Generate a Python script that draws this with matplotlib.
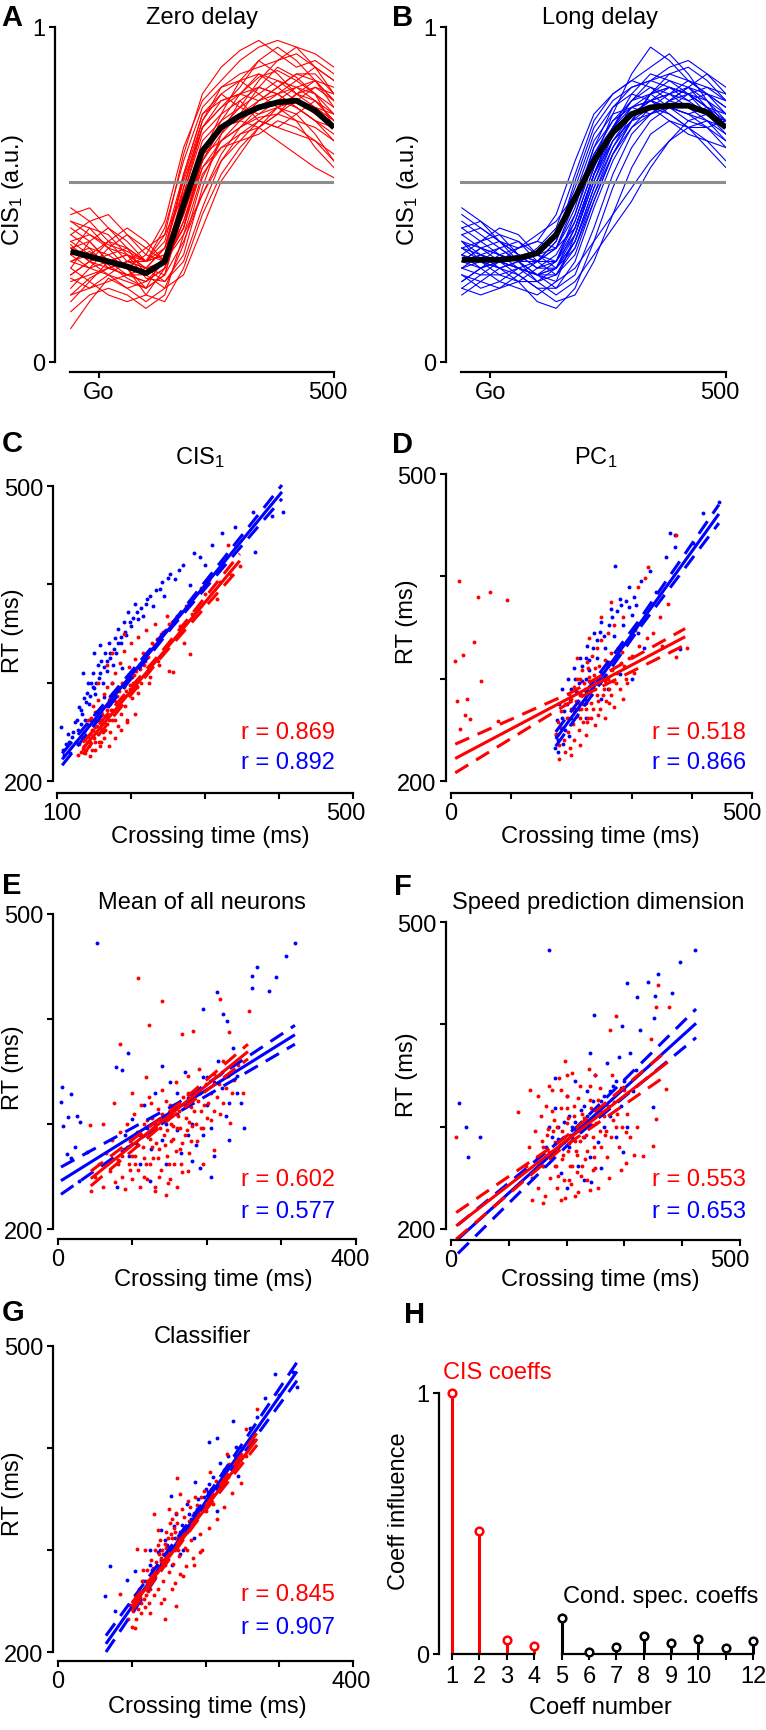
import numpy as np
import matplotlib
matplotlib.use('Agg')
import matplotlib.pyplot as plt
from matplotlib.transforms import ScaledTranslation

plt.rcParams['font.family'] = ['Liberation Sans', 'DejaVu Sans']
plt.rcParams['mathtext.fontset'] = 'custom'
plt.rcParams['mathtext.rm'] = 'Liberation Sans'
plt.rcParams['mathtext.it'] = 'Liberation Sans:italic'
plt.rcParams['font.size'] = 17

W, H = 766, 1731
RED = '#ff0000'
BLUE = '#0000ff'

# ---- panels A/B: CIS1 traces ----
trace_t = [-60, -20, 20, 60, 100, 140, 180, 220, 260, 300, 340, 380, 420, 460, 500]
threshold = 0.537
zero_mean = [.33, .315, .30, .285, .265, .30, .47, .63, .70, .735, .76, .775, .78, .75, .70]
long_mean = [.305, .305, .305, .31, .325, .38, .49, .60, .685, .74, .76, .765, .765, .745, .70]

zero_traces = [
    [.42, .38, .35, .33, .30, .34, .55, .72, .82, .86, .88, .90, .92, .88, .80],
    [.30, .33, .29, .25, .22, .26, .45, .62, .70, .76, .80, .84, .82, .78, .72],
    [.20, .25, .28, .26, .24, .28, .50, .70, .78, .80, .85, .87, .84, .80, .74],
    [.46, .42, .36, .30, .28, .30, .40, .58, .66, .70, .73, .74, .72, .70, .66],
    [.35, .30, .32, .34, .30, .38, .62, .80, .88, .93, .96, .92, .88, .90, .86],
    [.10, .18, .25, .22, .18, .22, .35, .55, .66, .72, .78, .80, .82, .84, .78],
    [.28, .36, .40, .36, .30, .32, .50, .68, .74, .78, .72, .70, .74, .78, .72],
    [.38, .34, .28, .26, .26, .30, .44, .60, .68, .74, .82, .88, .85, .80, .70],
    [.25, .22, .26, .30, .28, .26, .36, .50, .62, .70, .74, .76, .74, .68, .60],
    [.33, .40, .38, .32, .25, .24, .30, .46, .60, .68, .70, .66, .62, .58, .55],
    [.40, .36, .30, .28, .32, .42, .64, .78, .84, .90, .94, .96, .94, .88, .84],
    [.22, .28, .30, .28, .20, .18, .28, .44, .56, .64, .70, .74, .78, .76, .72],
    [.36, .32, .30, .32, .28, .34, .52, .70, .76, .80, .78, .82, .86, .84, .78],
    [.15, .20, .22, .20, .16, .20, .38, .56, .64, .68, .72, .70, .68, .66, .62],
    [.30, .28, .34, .38, .34, .30, .40, .62, .74, .84, .90, .86, .80, .76, .74],
    [.44, .46, .40, .34, .30, .36, .56, .74, .80, .76, .74, .78, .82, .80, .76],
    [.26, .30, .26, .22, .24, .30, .48, .66, .72, .76, .84, .90, .94, .92, .88],
    [.34, .30, .28, .30, .34, .38, .50, .62, .66, .70, .76, .80, .76, .72, .70],
    [.18, .24, .30, .32, .28, .24, .32, .52, .68, .78, .82, .80, .76, .72, .68],
    [.32, .34, .32, .28, .22, .26, .46, .64, .70, .72, .70, .74, .80, .84, .82],
    [.38, .42, .44, .38, .32, .30, .42, .58, .64, .66, .68, .72, .70, .66, .60],
    [.28, .24, .20, .18, .20, .28, .52, .72, .80, .84, .86, .82, .78, .74, .70],
    [.24, .26, .28, .30, .30, .32, .44, .62, .72, .80, .86, .84, .80, .82, .80],
    [.36, .38, .34, .28, .26, .30, .38, .50, .60, .66, .72, .76, .72, .64, .58],
    [.30, .32, .36, .34, .26, .22, .26, .40, .54, .62, .70, .76, .80, .78, .74],
    [.42, .40, .34, .32, .30, .40, .60, .76, .82, .84, .80, .76, .78, .82, .78],
    [.20, .22, .24, .26, .28, .34, .54, .70, .76, .82, .90, .94, .90, .84, .76],
    [.34, .36, .30, .26, .24, .28, .42, .60, .70, .74, .78, .82, .86, .86, .80],
    [.26, .30, .36, .40, .36, .30, .40, .60, .70, .72, .76, .78, .76, .72, .66],
    [.32, .28, .26, .24, .22, .32, .56, .74, .78, .80, .82, .80, .84, .88, .84],
]

long_traces = [
    [.40, .36, .32, .30, .32, .38, .52, .68, .76, .80, .78, .80, .82, .78, .72],
    [.30, .34, .36, .32, .28, .30, .42, .58, .70, .76, .80, .82, .80, .76, .70],
    [.22, .26, .30, .28, .24, .26, .36, .52, .66, .74, .78, .76, .74, .72, .68],
    [.46, .42, .36, .34, .36, .44, .60, .74, .80, .84, .82, .78, .76, .74, .72],
    [.34, .30, .28, .30, .32, .34, .44, .60, .74, .86, .94, .90, .84, .80, .76],
    [.26, .22, .24, .28, .26, .22, .26, .40, .56, .68, .74, .78, .80, .78, .74],
    [.38, .40, .36, .30, .26, .28, .40, .56, .66, .72, .76, .74, .70, .66, .60],
    [.28, .30, .34, .36, .32, .28, .34, .48, .62, .72, .80, .86, .88, .84, .78],
    [.32, .28, .24, .22, .20, .24, .38, .56, .70, .78, .80, .76, .72, .70, .66],
    [.36, .34, .32, .34, .38, .42, .50, .62, .70, .74, .78, .82, .80, .74, .68],
    [.20, .24, .28, .26, .22, .18, .20, .30, .44, .58, .68, .72, .70, .64, .58],
    [.42, .38, .34, .30, .30, .36, .54, .70, .78, .82, .84, .86, .84, .80, .74],
    [.30, .32, .30, .26, .22, .22, .30, .46, .60, .70, .76, .80, .84, .82, .78],
    [.34, .36, .38, .36, .30, .26, .34, .50, .64, .74, .78, .74, .70, .70, .72],
    [.28, .26, .26, .28, .30, .36, .50, .66, .74, .76, .74, .76, .80, .82, .80],
    [.24, .28, .32, .30, .26, .24, .28, .36, .44, .52, .60, .66, .70, .72, .70],
    [.36, .30, .28, .30, .34, .40, .56, .72, .80, .84, .88, .92, .86, .78, .70],
    [.30, .34, .32, .28, .26, .30, .44, .62, .72, .76, .78, .80, .76, .72, .66],
    [.44, .40, .36, .32, .28, .28, .36, .52, .64, .72, .80, .84, .82, .76, .70],
    [.26, .24, .22, .24, .28, .32, .42, .58, .70, .78, .82, .80, .78, .80, .78],
    [.32, .36, .40, .38, .32, .30, .38, .54, .68, .76, .78, .76, .74, .76, .74],
    [.38, .34, .30, .28, .26, .26, .32, .48, .62, .70, .74, .78, .82, .86, .82],
    [.22, .20, .22, .26, .30, .34, .46, .64, .76, .82, .84, .82, .80, .76, .70],
    [.34, .32, .28, .24, .18, .16, .22, .36, .52, .64, .72, .76, .74, .70, .64],
    [.30, .28, .30, .34, .36, .34, .40, .56, .68, .74, .76, .72, .68, .66, .64],
    [.40, .42, .38, .32, .30, .34, .48, .64, .72, .78, .84, .88, .90, .86, .80],
    [.28, .32, .34, .30, .24, .20, .24, .32, .40, .48, .58, .66, .72, .74, .72],
    [.36, .32, .30, .32, .30, .30, .40, .56, .70, .80, .86, .84, .80, .76, .72],
    [.24, .28, .30, .28, .26, .28, .38, .54, .66, .72, .74, .78, .82, .80, .76],
    [.32, .30, .26, .24, .24, .28, .36, .50, .62, .72, .80, .82, .78, .74, .72],
]

# ---- panels C-G: crossing time vs RT ----
# fits: [x, fit, lower ci, upper ci]
c_red = [(128,226),(130,238),(132,230),(134,245),(135,233),(137,250),(138,228),(140,240),(141,258),(143,236),
         (144,248),(146,264),(147,232),(148,252),(150,244),(151,270),(152,240),(154,256),(155,248),(156,282),
         (158,236),(159,262),(160,270),(162,250),(163,288),(164,244),(166,276),(167,258),(168,296),(170,262),
         (171,284),(172,250),(174,300),(175,272),(176,290),(178,262),(179,310),(180,280),(182,256),(183,296),
         (185,320),(186,268),(188,300),(189,286),(190,332),(192,276),(194,306),(195,262),(197,316),(199,294),
         (200,340),(202,284),(204,308),(206,324),(208,296),(210,346),(212,314),(214,300),(216,330),(218,318),
         (220,354),(223,326),(226,306),(229,340),(232,360),(236,322),(240,350),(244,334),(248,368),(252,312),
         (257,311),(260,345),(266,358),(272,340),(280,329),(282,370),(290,376),(300,390),(316,385),(320,402),
         (331,440),(335,410),(347,419),(145,225),(152,232),(160,240),(170,236),(178,244),(186,252),(195,260),
         (205,268),(142,262),(156,300),(168,318),(148,276),(175,330),(190,350),(210,290),(225,300),(238,318),
         (136,236),(139,232),(142,245),(145,240),(147,252),(149,246),(151,255),(153,250),(156,262),(158,254),
         (161,268),(163,260),(165,266),(167,272),(169,266),(171,278),(173,272),(177,282),(181,286),(184,292),
         (187,284),(191,300),(193,292),(196,304),(198,298),(201,306),(203,300),(207,312),(211,316),(215,320),
         (219,322),(222,330),(227,334),(231,338),(235,344),(239,346),(243,352),(247,354),(251,360),(255,362),
         (262,368),(268,372),(275,378),(285,388),(295,396),(305,404),(150,262),(160,258),(170,282),(180,292),
         (190,296),(200,310),(157,240),(165,252),(174,262),(183,276)]
c_blue = [(105,255),(108,232),(112,238),(115,248),(118,228),(120,245),(124,260),(126,240),(128,252),(130,275),
          (132,258),(134,268),(137,284),(138,262),(140,290),(143,278),(145,262),(146,300),(148,310),(150,295),
          (152,288),(154,270),(155,318),(157,305),(160,322),(162,300),(164,285),(165,330),(168,312),(170,340),
          (172,325),(175,300),(176,318),(178,345),(180,330),(183,355),(186,340),(188,315),(190,362),(193,348),
          (196,372),(200,358),(205,380),(210,365),(216,368),(222,385),(230,378),(239,395),(245,388),(253,411),
          (259,405),(265,415),(280,399),(293,428),(300,420),(310,440),(323,452),(340,458),(365,474),(368,433),
          (390,470),(405,474),(142,300),(158,338),(135,310),(150,330),
          (110,226),(116,240),(122,250),(127,262),(133,272),(139,280),(144,286),(149,296),(153,300),(158,310),
          (163,316),(167,322),(171,330),(177,334),(182,340),(187,346),(192,352),(198,362),(203,366),(208,372),
          (214,376),(220,380),(226,388),(234,394),(242,402),(250,406),(270,420),(285,432)]
c_red_fit = [[135, 241, 347], [233, 328.5, 424], [227, 326, 417], [239, 331, 431]]
c_blue_fit = [[107, 255, 404], [222, 358, 494], [216, 356, 487], [228, 360, 501]]

d_red = [(175,246),(178,258),(180,235),(182,268),(185,252),(188,240),(190,275),(192,262),(195,248),(196,285),
         (198,232),(200,270),(202,256),(204,292),(205,240),(207,278),(209,264),(210,300),(212,250),(214,284),
         (216,270),(218,308),(220,258),(222,290),(224,276),(226,316),(228,262),(230,298),(232,284),(234,322),
         (236,270),(238,304),(240,290),(242,330),(244,278),(246,312),(248,296),(250,338),(252,284),(255,318),
         (258,302),(260,345),(262,290),(265,325),(268,308),(270,352),(274,296),(278,330),(282,315),(286,360),
         (290,300),(295,338),(300,322),(305,348),(312,332),(318,356),(325,340),(335,345),(350,332),(322,398),
         (327,409),(311,390),(360,373),(347,360),(374,321),(374,440),(392,330),(180,222),(190,228),(200,225),
         (215,235),(225,245),(240,255),(255,262),(270,272),(285,280),(210,320),(230,340),(250,360),(265,375),
         (13,395),(45,380),(65,385),(93,377),(38,336),(20,323),(7,317),(50,298),(10,278),(27,280),
         (23,265),(32,261),(15,251),(78,259),
         (195,262),(200,280),(204,268),(208,290),(212,276),(215,262),(218,284),(221,296),(224,270),(227,288),
         (230,302),(233,276),(236,294),(239,310),(242,284),(245,298),(248,270),(251,306),(254,290),(257,278),
         (260,300),(263,316),(266,284),(269,298),(272,318),(276,306),(280,290),(284,326),(288,312),(292,296),
         (296,320),(304,306),(210,270),(220,275),(232,262),(244,265),(256,298),(262,276),(240,300),(228,310),
         (214,300),(226,258)]
d_blue = [(172,232),(174,245),(176,260),(178,240),(180,275),(182,252),(185,290),(188,268),(190,250),(194,300),
          (198,280),(200,262),(205,310),(208,288),(212,270),(215,320),(218,298),(222,280),(226,332),(230,308),
          (235,290),(238,345),(242,320),(246,300),(250,355),(255,330),(260,312),(265,368),(270,342),(272,410),
          (276,322),(280,378),(285,352),(290,335),(296,390),(300,362),(308,372),(315,395),(320,358),(330,405),
          (340,385),(357,419),(364,442),(372,440),(372,429),(380,329),(402,433),(419,462),(445,473),(300,300),
          (320,330),(250,280),(178,228),(186,236),(196,244),(260,290),(280,305),(310,345),(225,262),
          (185,262),(192,275),(200,290),(206,300),(212,296),(218,312),(224,320),(230,318),(236,330),(242,338),
          (248,346),(254,342),(262,352),(268,360),(276,366),(282,372),(290,376),(296,370),(304,380),(205,270),
          (215,285),(225,300)]
d_red_fit = [[7, 198, 389], [222, 281.5, 341], [208, 277, 333], [236, 286, 349]]
d_blue_fit = [[174, 310, 445], [241, 351, 461], [234, 347, 452], [248, 355, 470]]

e_red = [(44,236),(50,250),(55,262),(60,240),(65,272),(70,255),(72,285),(76,245),(80,266),(83,292),
         (86,250),(88,276),(90,238),(92,300),(95,262),(97,284),(100,248),(102,310),(104,270),(106,292),
         (108,256),(110,240),(112,318),(114,278),(116,300),(118,262),(120,248),(122,326),(124,286),(126,306),
         (128,268),(130,236),(132,296),(134,314),(136,276),(138,256),(140,332),(142,290),(144,304),(146,270),
         (148,244),(150,318),(152,284),(154,298),(156,262),(158,340),(160,296),(162,312),(164,276),(166,254),
         (168,326),(170,290),(172,306),(174,346),(176,272),(178,316),(180,298),(183,330),(186,284),(189,352),
         (192,312),(195,296),(198,338),(202,320),(206,304),(210,348),(214,326),(218,310),(222,360),(226,334),
         (231,301),(236,342),(242,356),(248,330),(83,376),(107,439),(122,394),(140,417),(167,386),(181,389),
         (217,419),(229,388),(256,408),(43,299),(60,300),(75,320),(100,330),(118,345),(130,240),(145,232),
         (160,240),(175,255),(195,262),(210,275),
         (80,262),(86,270),(92,278),(96,256),(100,286),(104,262),(108,280),(112,290),(116,268),(120,304),
         (124,262),(126,278),(128,296),(131,282),(134,268),(137,296),(140,310),(143,280),(146,294),(149,262),
         (152,300),(155,286),(158,274),(161,308),(164,296),(167,282),(170,316),(173,294),(176,302),(179,284),
         (182,312),(185,300),(188,322),(192,296),(196,318),(200,306),(205,330),(210,312),(216,338),(222,320),
         (228,346),(234,330),(115,250),(135,250),(150,248),(165,262),(100,270),(125,320),(145,322),(175,330)]
e_blue = [(52,472),(318,472),(306,460),(267,450),(260,441),(293,440),(260,430),(283,427),(213,426),(195,410),
          (222,405),(227,398),(6,335),(4,321),(18,329),(7,298),(14,307),(25,308),(29,302),(23,278),
          (12,271),(17,268),(39,273),(28,246),(78,354),(86,351),(94,368),(79,240),(123,246),(90,290),
          (95,270),(100,305),(105,282),(110,262),(115,318),(120,296),(125,276),(130,330),(135,305),(140,285),
          (145,262),(150,340),(155,316),(160,294),(165,272),(170,350),(175,325),(180,300),(185,280),(190,258),
          (195,345),(200,318),(205,296),(210,270),(215,360),(220,334),(225,308),(230,285),(235,372),(240,346),
          (245,320),(250,296),(205,250),(180,265),(160,330),(140,355),
          (110,290),(130,300),(150,312),(170,318),(190,330),(200,345),(210,340),(220,350),(230,320),(240,330),
          (195,290),(160,310),(145,300),(175,290)]
e_red_fit = [[44, 150, 255], [248, 308.5, 369], [241, 305, 362], [255, 312, 376]]
e_blue_fit = [[4, 161, 318], [246, 315.5, 385], [233, 311, 376], [259, 320, 394]]

f_red = [(130,262),(135,280),(140,250),(145,296),(148,270),(150,240),(155,310),(158,286),(160,262),(163,232),
         (165,320),(168,298),(170,275),(172,250),(175,336),(178,306),(180,285),(182,262),(184,240),(187,348),
         (190,318),(192,296),(194,272),(196,248),(198,230),(200,330),(202,308),(204,284),(206,262),(208,244),
         (210,352),(212,320),(214,298),(216,276),(218,256),(220,236),(223,340),(226,312),(229,290),(232,268),
         (235,248),(238,356),(241,326),(244,302),(247,280),(250,260),(254,240),(258,338),(262,314),(266,292),
         (270,270),(274,250),(278,350),(282,324),(286,300),(290,280),(295,258),(300,336),(305,312),(310,290),
         (316,272),(322,300),(9,290),(116,314),(136,336),(197,364),(150,330),(286,408),(275,394),(358,438),
         (354,417),(377,417),(372,337),(354,307),(350,281),(332,271),(303,264),(303,295),(346,386),(140,228),
         (160,225),(190,228),(215,232),(240,238),(170,340),(250,350),(200,350),
         (160,280),(166,292),(172,270),(176,296),(180,262),(184,300),(188,282),(192,268),(196,290),(200,304),
         (203,276),(206,292),(209,262),(212,310),(215,286),(218,272),(221,300),(224,286),(227,262),(230,308),
         (233,292),(236,276),(239,300),(242,318),(245,290),(248,270),(251,304),(254,326),(257,296),(260,280),
         (264,310),(268,296),(272,320),(276,290),(280,306),(288,312),(296,300),(185,252),(205,248),(225,252),
         (245,258),(200,318),(220,328),(240,340),(175,315),(190,336)]
f_blue = [(170,473),(422,473),(396,461),(358,449),(341,441),(304,440),(382,431),(353,428),(322,427),(351,406),
          (247,409),(296,398),(327,394),(14,323),(26,300),(50,290),(29,270),(350,319),(298,275),(242,246),
          (160,262),(165,280),(170,300),(175,270),(180,318),(185,288),(190,255),(195,305),(200,330),(205,280),
          (210,300),(215,345),(220,262),(225,316),(230,290),(235,335),(240,270),(245,308),(250,350),(255,285),
          (260,325),(265,300),(270,362),(275,310),(280,340),(285,290),(290,368),(295,320),(300,345),(305,300),
          (310,372),(315,335),(320,355),(200,240),(230,248),(260,260),(180,348),(240,372),
          (175,290),(185,300),(195,285),(205,310),(215,305),(225,296),(235,310),(245,325),(255,318),(265,330),
          (275,335),(285,345),(295,338),(210,290),(230,320)]
f_red_fit = [[9, 192, 375], [203, 283, 363], [190, 279, 351], [216, 287, 375]]
f_blue_fit = [[12, 218, 424], [190, 295.5, 401], [176, 291, 387], [204, 300, 415]]

g_red = [(95,232),(98,246),(100,225),(102,240),(104,256),(106,232),(108,250),(110,262),(112,238),(114,270),
         (116,252),(118,244),(120,280),(122,260),(124,248),(126,290),(128,270),(130,256),(132,300),(134,278),
         (136,262),(138,310),(140,288),(142,270),(144,252),(146,318),(148,296),(150,278),(152,326),(154,304),
         (156,286),(158,268),(160,336),(162,312),(164,294),(166,276),(168,340),(170,320),(172,302),(174,284),
         (176,348),(178,328),(180,310),(183,292),(186,352),(189,332),(192,316),(195,300),(198,358),(201,338),
         (205,322),(210,345),(215,330),(220,360),(225,342),(230,372),(236,356),(242,380),(248,366),(255,392),
         (162,371),(160,245),(130,335),(107,301),(270,438),(255,419),(229,394),(206,376),(193,298),(84,257),
         (104,224),(125,238),(140,248),(155,262),(170,275),(185,285),(135,320),(150,340),(165,355),(118,300),
         (145,232),
         (105,244),(109,242),(111,254),(113,248),(117,262),(119,256),(121,270),(123,266),(127,276),(129,282),
         (131,274),(133,288),(135,284),(137,296),(139,292),(141,300),(143,296),(145,306),(147,302),(149,312),
         (151,300),(153,316),(155,312),(157,322),(159,318),(161,326),(163,300),(167,318),(171,332),(175,324),
         (179,342),(184,336),(188,344),(194,352),(200,348),(207,360),(214,368),(222,374),(232,384),(240,392),
         (115,280),(125,262),(135,305),(145,285),(155,330),(165,310),(175,300)]
g_blue = [(294,473),(280,449),(237,426),(205,406),(215,410),(242,401),(244,373),(64,255),(70,284),(77,240),
          (93,271),(104,279),(324,460),(319,475),(186,367),(215,338),(204,357),(175,318),(153,353),(157,324),
          (110,250),(115,270),(120,262),(125,285),(130,275),(135,298),(140,290),(145,310),(150,302),(155,285),
          (160,335),(165,318),(170,300),(175,345),(180,330),(185,312),(190,350),(195,338),(200,360),(210,372),
          (220,385),(230,392),(125,300),(140,320),(165,296),
          (118,270),(128,280),(138,300),(148,305),(158,312),(168,325),(178,335),(188,340),(198,352),(205,365),
          (225,378),(250,400),(260,420),(270,430),(300,452)]
g_red_fit = [[100, 185, 270], [244, 326.5, 409], [240, 325, 403], [248, 328, 415]]
g_blue_fit = [[65, 195, 324], [208, 342, 475], [200, 339, 466], [216, 345, 484]]

r_values = {'C': ('0.869', '0.892'), 'D': ('0.518', '0.866'), 'E': ('0.602', '0.577'),
            'F': ('0.553', '0.653'), 'G': ('0.845', '0.907')}

# ---- panel H ----
cis_num = [1, 2, 3, 4]
cis_coef = [1.0, 0.473, 0.054, 0.029]
cond_num = [5, 6, 7, 8, 9, 10, 11, 12]
cond_coef = [0.138, 0.009, 0.026, 0.070, 0.041, 0.058, 0.023, 0.049]

fig = plt.figure(figsize=(W / 100, H / 100), dpi=100)


def add_ax(l, t, r, b):
    ax = fig.add_axes([l / W, 1 - b / H, (r - l) / W, (b - t) / H])
    ax.patch.set_alpha(0)
    return ax


def shift_label(lab, dx):
    lab.set_transform(lab.get_transform() + ScaledTranslation(dx / 100, 0, fig.dpi_scale_trans))


def style(ax, xlim, ylim, xb, yb, xt, xl, yt, yl, last_shift=0):
    ax.set_xlim(xlim)
    ax.set_ylim(ylim)
    for s in ['top', 'right']:
        ax.spines[s].set_visible(False)
    for s in ['left', 'bottom']:
        ax.spines[s].set_linewidth(1.6)
    ax.spines['left'].set_bounds(*yb)
    ax.spines['bottom'].set_bounds(*xb)
    ax.set_xticks(xt)
    ax.set_xticklabels(xl)
    ax.set_yticks(yt)
    ax.set_yticklabels(yl)
    ax.tick_params(direction='out', length=4, width=1.5, labelsize=17)
    ax.tick_params(axis='x', pad=2.5)
    ax.tick_params(axis='y', pad=3)
    if last_shift:
        shift_label(ax.get_xticklabels()[-1], last_shift)


def ftext(x, y, s, **kw):
    kw.setdefault('ha', 'center')
    kw.setdefault('va', 'center')
    kw.setdefault('fontsize', 17)
    fig.text(x / W, 1 - y / H, s, **kw)


def trace_panel(box, traces, mean, color):
    ax = add_ax(*box)
    for tr in traces:
        ax.plot(trace_t, tr, color=color, lw=0.8)
    ax.plot([-62, 498], [threshold, threshold], color='#8c8c8c', lw=2.2)
    ax.plot(trace_t, mean, color='black', lw=4.2, solid_capstyle='butt')
    style(ax, (-93.5, 500), (-0.03, 1), (-62, 500), (0, 1), [0, 500], ['Go', '500'], [0, 1], ['0', '1'],
          last_shift=-6)
    return ax


def draw_fit(ax, fit, color):
    x, y, lo, hi = fit
    ax.plot(x, y, color=color, lw=2.2, clip_on=False, solid_capstyle='butt')
    for b in (lo, hi):
        ax.plot(x, b, color=color, lw=2.2, dashes=(5, 3), clip_on=False, dash_capstyle='butt')


def scatter_panel(box, xlim, ylim, xmax, red, blue, red_fit, blue_fit, last_shift):
    ax = add_ax(*box)
    bx, by = zip(*blue)
    rx, ry = zip(*red)
    ax.plot(bx, by, 'o', color=BLUE, ms=2.8, mew=0, clip_on=False)
    ax.plot(rx, ry, 'o', color=RED, ms=2.8, mew=0, clip_on=False)
    draw_fit(ax, blue_fit, BLUE)
    draw_fit(ax, red_fit, RED)
    x0 = 100 if xlim[0] > 50 else 0
    xt = list(range(x0, xmax + 1, 100))
    xl = [str(x0)] + [''] * (len(xt) - 2) + [str(xmax)]
    style(ax, xlim, ylim, (x0, xmax), (200, 500), xt, xl, [200, 300, 400, 500], ['200', '', '', '500'],
          last_shift=last_shift)
    return ax


trace_panel((55, 28, 334, 373), zero_traces, zero_mean, RED)
trace_panel((446, 28, 726, 373), long_traces, long_mean, BLUE)

axc = scatter_panel((53, 487, 353, 794), (94.6, 500), (187.8, 500), 500, c_red, c_blue, c_red_fit, c_blue_fit, -7)
shift_label(axc.get_xticklabels()[0], 5)
scatter_panel((446, 475, 752, 794), (-8.3, 500), (188.3, 500), 500, d_red, d_blue, d_red_fit, d_blue_fit, -10)
scatter_panel((53, 915, 356, 1240), (-6.7, 400), (190.5, 500), 400, e_red, e_blue, e_red_fit, e_blue_fit, -6)
scatter_panel((446, 923, 740, 1241), (-8.6, 500), (189.2, 500), 500, f_red, f_blue, f_red_fit, f_blue_fit, -10)
scatter_panel((53, 1347, 353, 1662), (-6.8, 400), (191.2, 500), 400, g_red, g_blue, g_red_fit, g_blue_fit, -2)

# panel H
axh = add_ax(439, 1394, 760, 1655)
for nums, vals, col in [(cis_num, cis_coef, RED), (cond_num, cond_coef, 'black')]:
    ml, sl, bl = axh.stem(nums, vals, linefmt='-', markerfmt='o', basefmt='-')
    plt.setp(sl, color=col, lw=2.2, clip_on=False)
    plt.setp(ml, markerfacecolor='white', markeredgecolor=col, ms=5.5, mew=1.8, clip_on=False, zorder=3)
    plt.setp(bl, color='black', lw=1.6, clip_on=False)
style(axh, (0.525, 12.25), (0, 1), (1, 12), (0, 1), list(range(1, 13)),
      [str(i) if i != 11 else '' for i in range(1, 13)], [0, 1], ['0', '1'])
axh.spines['bottom'].set_visible(False)
axh.tick_params(axis='x', pad=4)

# panel letters
for letter, x, y in [('A', 12, 18), ('B', 403, 18), ('C', 12, 444), ('D', 403, 445),
                     ('E', 12, 886), ('F', 403, 887), ('G', 13, 1313), ('H', 415, 1315)]:
    ftext(x, y, letter, fontsize=21, fontweight='bold')

# titles
ftext(202, 18, 'Zero delay')
ftext(600, 18, 'Long delay')
ftext(200, 458, r'CIS$_{\mathrm{1}}$')
ftext(596, 458, r'PC$_{\mathrm{1}}$')
ftext(202, 903, 'Mean of all neurons')
ftext(598, 903, 'Speed prediction dimension')
ftext(202, 1337, 'Classifier')

# axis labels
ftext(13, 190, r'CIS$_{\mathrm{1}}$ (a.u.)', rotation=90)
ftext(408, 190, r'CIS$_{\mathrm{1}}$ (a.u.)', rotation=90)
for x, y in [(13, 631), (407, 622), (13, 1068), (407, 1075), (13, 1494)]:
    ftext(x, y, 'RT (ms)', rotation=90)
for x, y in [(210, 837), (600, 837), (213, 1280), (600, 1280), (207, 1707)]:
    ftext(x, y, 'Crossing time (ms)')
ftext(399, 1511, 'Coeff influence', rotation=90)
ftext(600, 1708, 'Coeff number')
ftext(443, 1373, 'CIS coeffs', ha='left', color=RED)
ftext(563, 1597, 'Cond. spec. coeffs', ha='left')

# correlation labels
for key, x, y1, y2 in [('C', 335, 733, 763), ('D', 746, 733, 763), ('E', 335, 1180, 1212),
                       ('F', 746, 1180, 1212), ('G', 335, 1595, 1628)]:
    rr, rb = r_values[key]
    ftext(x, y1, 'r = ' + rr, ha='right', color=RED)
    ftext(x, y2, 'r = ' + rb, ha='right', color=BLUE)

fig.savefig('out.png', dpi=100)
